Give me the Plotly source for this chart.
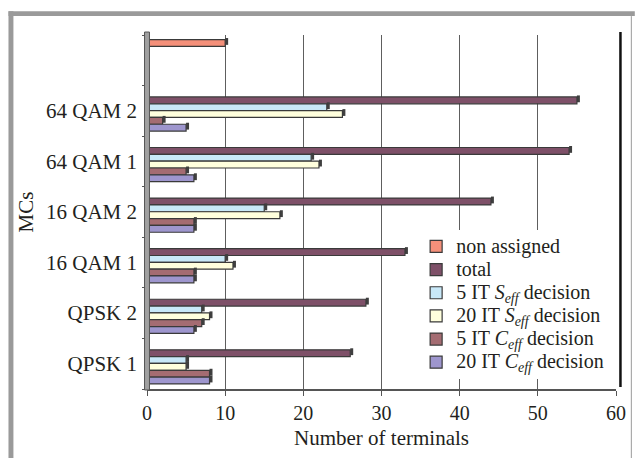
import plotly.graph_objects as go

categories = ["QPSK 1", "QPSK 2", "16 QAM 1", "16 QAM 2", "64 QAM 1", "64 QAM 2", " "]
non_assigned = [None, None, None, None, None, None, 10]
total = [26, 28, 33, 44, 54, 55, None]
s_eff_5 = [5, 7, 10, 15, 21, 23, None]
s_eff_20 = [5, 8, 11, 17, 22, 25, None]
c_eff_5 = [8, 7, 6, 6, 5, 2, None]
c_eff_20 = [8, 6, 6, 6, 6, 5, None]


def big(t):
    return '<span style="font-size:20px">' + t + "</span>"


# listed top-to-bottom within each group
series = [
    (big("non assigned"), non_assigned, "#F5907A"),
    (big("total"), total, "#7E5068"),
    (big("5 IT <i>S</i><sub><i>eff</i></sub> decision"), s_eff_5, "#C8E8F8"),
    (big("20 IT <i>S</i><sub><i>eff</i></sub> decision"), s_eff_20, "#FFFFDD"),
    (big("5 IT <i>C</i><sub><i>eff</i></sub> decision"), c_eff_5, "#A46C72"),
    (big("20 IT <i>C</i><sub><i>eff</i></sub> decision"), c_eff_20, "#9E96CE"),
]

W, H = 638, 458
L, R, T, B = 147, 621, 35, 391


def xp(px):
    return (px - L) / (R - L)


def yp(py):
    return (B - py) / (B - T)


slot = 0.135
group_top = 0.41
cap_len = 0.38   # depth of the 3D end face, in data units
cap_shift = 0.03

fig = go.Figure()
for k, (name, vals, col) in enumerate(series):
    off = group_top - (k + 1) * slot
    # 3D end face (decorative)
    fig.add_trace(go.Bar(
        y=categories, x=[cap_len if v is not None else None for v in vals],
        base=[v if v is not None else None for v in vals],
        orientation="h", offset=off + cap_shift, width=slot,
        marker=dict(color="#3F3F3F", line=dict(width=0)),
        showlegend=False, hoverinfo="skip",
    ))
    fig.add_trace(go.Bar(
        y=categories, x=vals, name=name, orientation="h",
        offset=off, width=slot,
        marker=dict(color=col, line=dict(color="#3A3A3A", width=1.2)),
        legendrank=k + 1,
    ))

font = "Liberation Serif, Times New Roman, serif"
shapes = [
    # frame
    dict(type="rect", xref="paper", yref="paper", x0=xp(7), x1=xp(640), y0=yp(11), y1=yp(16),
         fillcolor="#9A9A9A", line=dict(width=0), layer="above"),
    dict(type="rect", xref="paper", yref="paper", x0=xp(7), x1=xp(12), y0=yp(11), y1=yp(470),
         fillcolor="#9A9A9A", line=dict(width=0), layer="above"),
    dict(type="line", xref="paper", yref="paper", x0=xp(636.5), x1=xp(636.5), y0=yp(16), y1=yp(470),
         line=dict(color="#9A9A9A", width=1), layer="above"),
    # back wall right edge
    dict(type="line", xref="paper", yref="paper", x0=xp(625.5), x1=xp(625.5), y0=yp(32), y1=yp(389),
         line=dict(color="#111", width=2.5), layer="below"),
    # left wall
    dict(type="rect", xref="paper", yref="paper", x0=xp(144.5), x1=xp(149.5), y0=yp(32), y1=yp(392),
         fillcolor="#A0A0A0", line=dict(color="#555", width=1), layer="above"),
]

fig.update_layout(
    width=W, height=H,
    margin=dict(l=L, r=W - R, t=T, b=H - B),
    paper_bgcolor="white", plot_bgcolor="white",
    barmode="overlay",
    font=dict(family=font, size=20, color="#231F20"),
    showlegend=True,
    legend=dict(x=xp(419), y=yp(231), xanchor="left", yanchor="top",
                bgcolor="white", borderwidth=0, font=dict(size=15.5, family=font),
                tracegroupgap=0),
    shapes=shapes,
    xaxis=dict(range=[0, 60], tickvals=[0, 10, 20, 30, 40, 50, 60],
               showgrid=True, gridcolor="#5E5E5E", gridwidth=1,
               showline=True, linecolor="#555", linewidth=1.5,
               ticks="outside", ticklen=5, tickcolor="#555",
               zeroline=False,
               title=dict(text="Number of terminals", font=dict(size=21), standoff=8),
               tickfont=dict(size=20)),
    yaxis=dict(type="category", categoryorder="array", categoryarray=categories,
               range=[-0.5, 6.5],
               showgrid=False, showline=False, zeroline=False,
               ticks="outside", ticklen=4, tickcolor="#555", tickson="boundaries",
               ticklabelstandoff=9,
               title=dict(text="MCs", font=dict(size=21), standoff=6),
               tickfont=dict(size=21)),
)

fig.write_html("out.html")
